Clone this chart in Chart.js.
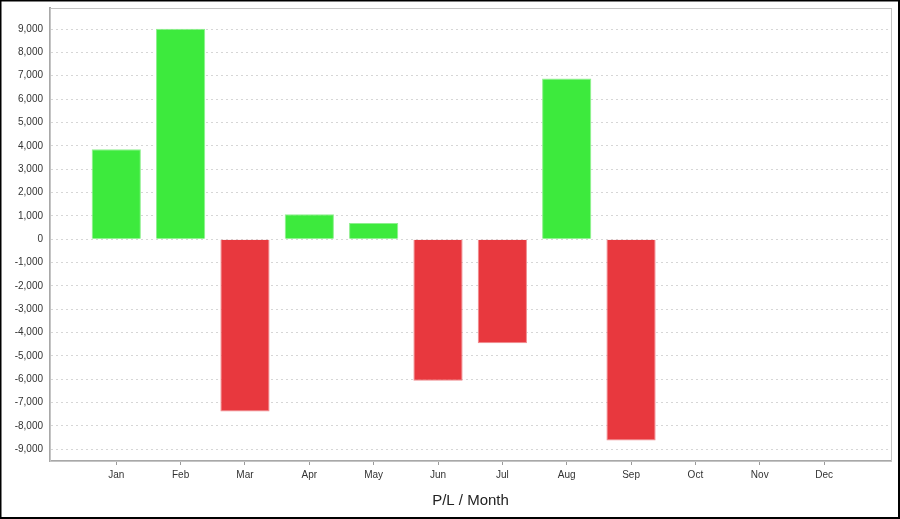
<!DOCTYPE html>
<html>
<head>
<meta charset="utf-8">
<script src="https://cdn.jsdelivr.net/npm/chart.js@4"></script>
<style>
  html, body { margin: 0; padding: 0; background: #fff; }
  canvas { display: block; }
</style>
</head>
<body>
<canvas id="plChart" width="900" height="519"></canvas>
<script>
// Données du graphique
const months = ['Jan', 'Feb', 'Mar', 'Apr', 'May', 'Jun', 'Jul', 'Aug', 'Sep', 'Oct', 'Nov', 'Dec'];
const profitLoss = [3850, 9010, -7380, 1070, 690, -6060, -4460, 6880, -8620, null, null, null];
const yTicks = [-9000, -8000, -7000, -6000, -5000, -4000, -3000, -2000, -1000, 0,
                1000, 2000, 3000, 4000, 5000, 6000, 7000, 8000, 9000];

const GREEN = '#3dea3d';
const RED = '#e8383e';

// cadre noir autour de l'image + cadre gris de la zone de tracé
const framePlugin = {
    id: 'frame',
    afterDraw(chart) {
        const { ctx, chartArea: a } = chart;
        ctx.save();
        ctx.strokeStyle = '#c4c4c4';
        ctx.lineWidth = 1;
        ctx.strokeRect(a.left + 0.5, a.top + 0.5, a.right - a.left, a.bottom - a.top);
        ctx.strokeStyle = '#000';
        ctx.lineWidth = 2;
        ctx.strokeRect(0.5, 0.5, chart.width - 1.5, chart.height - 1.5);
        ctx.restore();
    }
};

const points = profitLoss.map((v, i) => ({ x: i, y: v }));

new Chart(document.getElementById('plChart'), {
    type: 'bar',
    data: {
        datasets: [{
            data: points,
            backgroundColor: points.map(p => p.y >= 0 ? GREEN : RED),
            borderColor: points.map(p => p.y >= 0 ? '#8ef08e' : '#f08a8e'),
            borderWidth: 1,
            borderSkipped: 'start',
            categoryPercentage: 1,
            barPercentage: 0.765
        }]
    },
    options: {
        responsive: false,
        animation: false,
        layout: { padding: { left: 0, top: 8, right: 9, bottom: 0 } },
        plugins: {
            legend: { display: false },
            tooltip: { enabled: false }
        },
        scales: {
            x: {
                type: 'linear',
                offset: false,
                min: -1.03,
                max: 12.04,
                afterBuildTicks: scale => { scale.ticks = months.map((m, i) => ({ value: i })); },
                afterFit: scale => { scale.height = 58; scale.paddingLeft = 0; scale.paddingRight = 0; },
                grid: { offset: false, drawOnChartArea: false, drawTicks: true, tickLength: 4, color: '#9a9a9a' },
                border: { color: '#a8a8a8', width: 2 },
                ticks: {
                    autoSkip: false,
                    maxRotation: 0,
                    padding: 4,
                    color: '#333',
                    font: { family: 'Liberation Sans, Arial, sans-serif', size: 10 },
                    callback: v => months[v]
                },
                title: {
                    display: true,
                    text: 'P/L / Month',
                    color: '#222',
                    font: { family: 'Liberation Sans, Arial, sans-serif', size: 15 },
                    padding: { top: 0, bottom: 9 }
                }
            },
            y: {
                min: -9500,
                max: 9900,
                afterBuildTicks: scale => { scale.ticks = yTicks.map(v => ({ value: v })); },
                afterFit: scale => { scale.width = 50; scale.paddingTop = 0; scale.paddingBottom = 0; },
                grid: { color: '#d6d6d6', drawTicks: false },
                border: { color: '#a8a8a8', width: 2, dash: [2, 3] },
                ticks: {
                    padding: 7,
                    color: '#333',
                    font: { family: 'Liberation Sans, Arial, sans-serif', size: 10 },
                    callback: v => v.toLocaleString('en-US')
                }
            }
        }
    },
    plugins: [framePlugin]
});
</script>
</body>
</html>
